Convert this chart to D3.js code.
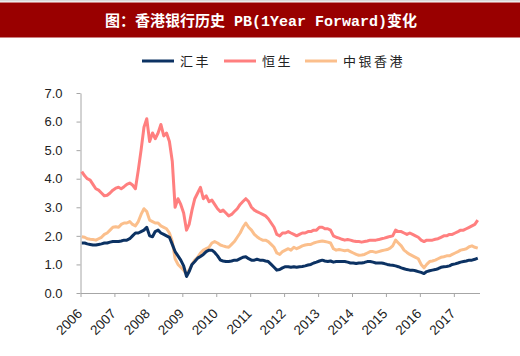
<!DOCTYPE html>
<html><head><meta charset="utf-8">
<script src="https://cdn.jsdelivr.net/npm/d3@7"></script>
<style>
html,body{margin:0;padding:0;background:#fff;}
svg{display:block;}
</style></head>
<body>
<svg id="chart" width="520" height="356"></svg>
<script>
// ---- data (monthly, Jan 2006 – Sep 2017) ----
const startYear = 2006;
const yearTicks = ["2006","2007","2008","2009","2010","2011","2012","2013","2014","2015","2016","2017"];
const yTicks = [0,1,2,3,4,5,6,7];
const seriesNames = ["汇丰","恒生","中银香港"];

const hsbc = [
 1.75,1.75,1.72,1.70,1.68,1.68,1.70,1.72,1.75,1.75,1.78,1.80,
 1.80,1.80,1.82,1.85,1.85,1.90,2.00,2.10,2.10,2.15,2.20,2.30,
 2.00,1.97,2.15,2.20,2.10,2.05,2.00,1.95,1.70,1.45,1.30,1.15,
 0.95,0.58,0.75,1.00,1.10,1.22,1.28,1.35,1.45,1.50,1.50,1.42,
 1.30,1.15,1.12,1.10,1.10,1.12,1.15,1.15,1.20,1.25,1.27,1.20,
 1.15,1.15,1.18,1.15,1.15,1.12,1.10,1.00,0.90,0.80,0.82,0.88,
 0.92,0.92,0.90,0.92,0.90,0.92,0.93,0.95,0.98,1.00,1.05,1.08,
 1.12,1.15,1.12,1.10,1.12,1.08,1.10,1.10,1.10,1.10,1.08,1.05,
 1.05,1.03,1.05,1.05,1.07,1.10,1.10,1.08,1.05,1.05,1.05,1.03,
 1.00,0.98,0.97,0.95,0.92,0.88,0.85,0.82,0.80,0.80,0.78,0.75,
 0.72,0.68,0.75,0.78,0.80,0.82,0.85,0.90,0.92,0.93,0.95,1.00,
 1.02,1.05,1.08,1.10,1.12,1.15,1.15,1.18,1.22
];
const hangSeng = [
 4.25,4.10,4.00,3.95,3.80,3.65,3.60,3.50,3.40,3.42,3.50,3.60,
 3.67,3.70,3.65,3.72,3.80,3.85,3.78,3.65,4.30,5.00,5.80,6.10,
 5.30,5.60,5.40,5.60,5.90,5.50,5.60,5.30,4.60,3.00,3.30,3.10,
 2.80,2.20,2.40,2.90,3.30,3.50,3.70,3.30,3.40,3.20,3.25,3.10,
 2.95,2.85,2.90,2.80,2.70,2.75,2.85,2.95,3.10,3.20,3.30,3.20,
 3.00,2.90,2.85,2.80,2.75,2.70,2.60,2.45,2.30,2.05,2.00,2.10,
 2.10,2.15,2.10,2.05,2.00,2.05,2.10,2.10,2.15,2.15,2.20,2.20,
 2.30,2.30,2.25,2.25,2.20,2.00,1.95,1.92,1.88,1.85,1.87,1.85,
 1.82,1.80,1.80,1.78,1.80,1.82,1.85,1.85,1.85,1.87,1.90,1.92,
 1.95,1.98,2.00,2.20,2.15,2.15,2.10,2.05,2.10,2.05,2.00,1.95,
 1.85,1.80,1.85,1.85,1.85,1.88,1.90,1.95,2.00,2.00,2.05,2.05,
 2.10,2.15,2.20,2.20,2.25,2.30,2.35,2.40,2.55
];
const bochk = [
 1.97,1.95,1.90,1.88,1.87,1.85,1.90,1.95,2.05,2.10,2.20,2.30,
 2.32,2.30,2.40,2.45,2.45,2.50,2.40,2.35,2.50,2.75,2.95,2.85,
 2.55,2.50,2.45,2.45,2.35,2.30,2.25,2.10,1.80,1.20,1.00,0.90,
 0.80,0.65,0.80,1.00,1.15,1.25,1.40,1.50,1.55,1.60,1.75,1.80,
 1.75,1.68,1.65,1.62,1.60,1.70,1.80,1.95,2.10,2.30,2.45,2.30,
 2.20,2.05,1.97,1.90,1.85,1.85,1.80,1.70,1.60,1.40,1.35,1.45,
 1.50,1.55,1.50,1.60,1.55,1.60,1.65,1.68,1.70,1.70,1.75,1.78,
 1.80,1.82,1.80,1.78,1.75,1.55,1.50,1.52,1.50,1.48,1.50,1.45,
 1.40,1.35,1.32,1.33,1.35,1.40,1.45,1.45,1.42,1.45,1.48,1.50,
 1.52,1.57,1.65,1.85,1.75,1.65,1.50,1.42,1.35,1.30,1.25,1.20,
 1.00,0.88,1.00,1.10,1.12,1.15,1.20,1.25,1.27,1.30,1.30,1.35,
 1.40,1.45,1.50,1.52,1.55,1.62,1.65,1.60,1.57
];
const colors = ["#0c3263","#ff7f7f","#fbbf8c"];

// ---- build ----
const svg = d3.select("#chart");
const dateOf = i => new Date(startYear, i, 15);

// title bar
svg.append("rect").attr("x",0).attr("y",0).attr("width",520).attr("height",1.5).attr("fill","#d9d9d9");
svg.append("rect").attr("x",0).attr("y",2.5).attr("width",520).attr("height",35).attr("fill","#990000");
svg.append("text").attr("x",261).attr("y",25.5).attr("text-anchor","middle")
  .attr("fill","#fff").attr("font-size",15).attr("font-weight","bold")
  .attr("font-family","'Liberation Mono','Noto Sans CJK SC',monospace")
  .text("图：香港银行历史 PB(1Year Forward)变化");

const x = d3.scaleTime()
  .domain([new Date(2006,0,1), new Date(2017,9,4)])
  .range([80.5, 479.5]);
const y = d3.scaleLinear().domain([0,7]).range([293, 93]);

// axes
const xAxis = d3.axisBottom(x)
  .tickValues(yearTicks.map(s => new Date(+s,0,1)))
  .tickFormat(d3.timeFormat("%Y")).tickSize(4).tickSizeOuter(0);
const gx = svg.append("g").attr("transform","translate(0,293)").call(xAxis);
gx.select(".domain").attr("stroke","#a6a6a6");
gx.selectAll(".tick line").attr("stroke","#a6a6a6");
gx.selectAll(".tick text")
  .attr("font-family","'Liberation Sans',Arial,sans-serif").attr("font-size",13.5).attr("fill","#222")
  .attr("text-anchor","end").attr("y",0).attr("dy",0)
  .attr("transform","translate(2,21.5) rotate(-45)");

const yAxis = d3.axisLeft(y).tickValues(yTicks).tickFormat(d3.format(".1f")).tickSize(4).tickSizeOuter(0);
const gy = svg.append("g").attr("transform","translate(80.5,0)").call(yAxis);
gy.select(".domain").attr("stroke","#a6a6a6");
gy.selectAll(".tick line").attr("stroke","#a6a6a6");
gy.selectAll(".tick text").attr("font-family","'Liberation Sans',Arial,sans-serif")
  .attr("font-size",13).attr("fill","#222").attr("x",-18);

// lines
const line = d3.line().x((d,i)=>x(dateOf(i))).y(d=>y(d)).curve(d3.curveLinear);
const order = [[bochk,2],[hangSeng,1],[hsbc,0]];
order.forEach(([arr,ci])=>{
  svg.append("path").datum(arr).attr("d",line).attr("fill","none")
    .attr("stroke",colors[ci]).attr("stroke-width",3).attr("stroke-linejoin","round");
});

// legend
const legendX = [142,224,305];
seriesNames.forEach((n,i)=>{
  svg.append("line").attr("x1",legendX[i]).attr("x2",legendX[i]+32).attr("y1",61).attr("y2",61)
    .attr("stroke",colors[i]).attr("stroke-width",3);
  svg.append("text").attr("x",legendX[i]+38).attr("y",65.5).attr("font-size",13)
    .attr("letter-spacing",2.5).attr("fill","#222")
    .attr("font-family","'Noto Sans CJK SC',sans-serif").text(n);
});
</script>
</body></html>
